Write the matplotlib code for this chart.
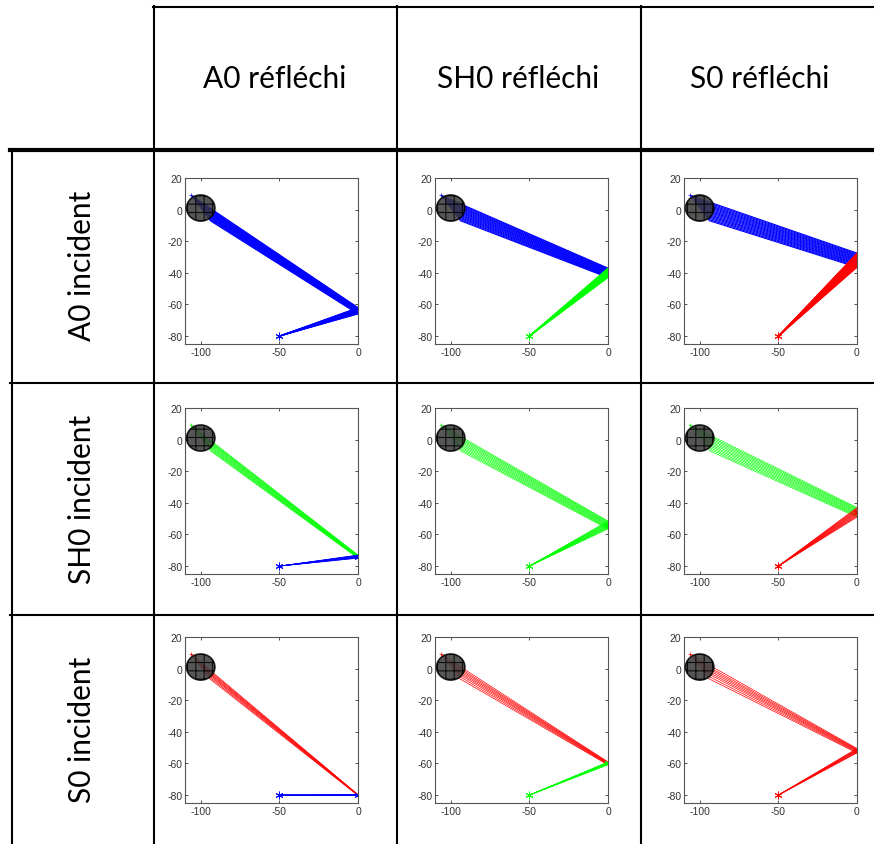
import numpy as np
import matplotlib
matplotlib.use('Agg')
import matplotlib.pyplot as plt
from matplotlib.patches import Ellipse
from matplotlib.lines import Line2D

plt.rcParams['axes.unicode_minus'] = False
plt.rcParams['hatch.color'] = 'black'
plt.rcParams['hatch.linewidth'] = 0.8

# table labels
col_labels = ['A0 réfléchi', 'SH0 réfléchi', 'S0 réfléchi']
row_labels = ['A0 incident', 'SH0 incident', 'S0 incident']
mode_colors = {'A0': '#0000ff', 'SH0': '#00ff00', 'S0': '#ff0000'}
modes = ['A0', 'SH0', 'S0']

# reflection point on the wall (x=0), one per cell [incident][reflected]
wall_y = [[-64, -40, -32],
          [-74, -54, -46],
          [-80, -60, -52]]
# half spread of the hit points on the wall
wall_spread = [[2.0, 3.0, 4.5],
               [1.0, 2.5, 3.0],
               [0.3, 1.0, 1.5]]

scatterer = (-100, 1)
source = (-50, -80)
# ray offsets across the bundle (dense for A0, thinner for SH0 / S0)
ray_offsets = {
    'A0': [-1.0, -0.88, -0.75, -0.62, -0.5, -0.38, -0.25, -0.12, 0.0,
           0.12, 0.25, 0.38, 0.5, 0.62, 0.75, 0.88, 1.0],
    'SH0': [-1.0, -0.8, -0.6, -0.4, -0.2, 0.0, 0.2, 0.4, 0.6, 0.8, 1.0],
    'S0': [-1.0, -0.7, -0.45, -0.2, 0.05, 0.3, 0.6, 0.9],
}
start_half = (6.0, 8.0)  # half extent of the start segment (dx, dy)

xticks = [-100, -50, 0]
yticks = [-80, -60, -40, -20, 0, 20]

W, H = 874, 845
fig = plt.figure(figsize=(W / 100, H / 100), dpi=100)

ax_left = [185, 435, 684]
ax_top = [179, 409, 638]
ax_w, ax_h = 173, 166
star = (6, 2, 0)  # matlab-like asterisk

for i, inc in enumerate(modes):
    for j, ref in enumerate(modes):
        ax = fig.add_axes([ax_left[j] / W, 1 - (ax_top[i] + ax_h) / H, ax_w / W, ax_h / H])
        offs = np.array(ray_offsets[inc])
        x0 = scatterer[0] + start_half[0] * offs
        y0 = scatterer[1] - start_half[1] * offs
        yw = wall_y[i][j] - wall_spread[i][j] * offs
        lw = 0.8 if inc == 'A0' else 0.5
        for k in range(len(offs)):
            ax.plot([x0[k], 0], [y0[k], yw[k]], color=mode_colors[inc], lw=lw)
        for k in range(len(offs)):
            ax.plot([0, source[0]], [yw[k], source[1]], color=mode_colors[ref], lw=lw)
        ax.plot(x0[0], y0[0], marker='+', color=mode_colors[inc], ms=3.5, mew=0.5)
        ax.plot(0, wall_y[i][j], marker=star, color=mode_colors[ref], ms=5.5, mew=0.7)
        ax.plot(source[0], source[1], marker=star, color=mode_colors[ref], ms=5.5, mew=0.7)
        ax.add_patch(Ellipse(scatterer, 18, 16.5, facecolor=(0.22, 0.22, 0.22),
                             edgecolor='black', lw=1.2, alpha=0.85, hatch='++', zorder=5))
        ax.set_xlim(-110, 0)
        ax.set_ylim(-85, 20)
        ax.set_xticks(xticks)
        ax.set_yticks(yticks)
        ax.tick_params(direction='in', top=True, right=True, length=2.5, width=0.6,
                       labelsize=7.5, pad=2, colors='#333333')
        for lab in ax.get_xticklabels() + ax.get_yticklabels():
            lab.set_family('Liberation Sans')
        for s in ax.spines.values():
            s.set_color('#555555')
            s.set_linewidth(0.8)

# table grid (pixel coordinates)
def hline(y, x1, x2, lw):
    fig.add_artist(Line2D([x1 / W, x2 / W], [1 - y / H, 1 - y / H], color='black', lw=lw))

def vline(x, y1, y2, lw):
    fig.add_artist(Line2D([x / W, x / W], [1 - y1 / H, 1 - y2 / H], color='black', lw=lw))

hline(7.5, 153, W, 1.5)
hline(151, 10, W, 3.0)
hline(383.5, 10, W, 1.5)
hline(615.5, 10, W, 1.5)
vline(11.5, 150, H, 1.5)
vline(153.5, 7, H, 1.5)
vline(397, 7, H, 1.5)
vline(640.5, 7, H, 1.5)

col_cx = [275, 518, 760]
for cx, lab in zip(col_cx, col_labels):
    fig.text(cx / W, 1 - 79 / H, lab, ha='center', va='center', fontsize=21.5, family='Lato')

row_cy = [266, 499, 730]
for cy, lab in zip(row_cy, row_labels):
    fig.text(82 / W, 1 - cy / H, lab, ha='center', va='center', rotation=90,
             fontsize=21.5, family='Lato')

fig.savefig('out.png', dpi=100)
